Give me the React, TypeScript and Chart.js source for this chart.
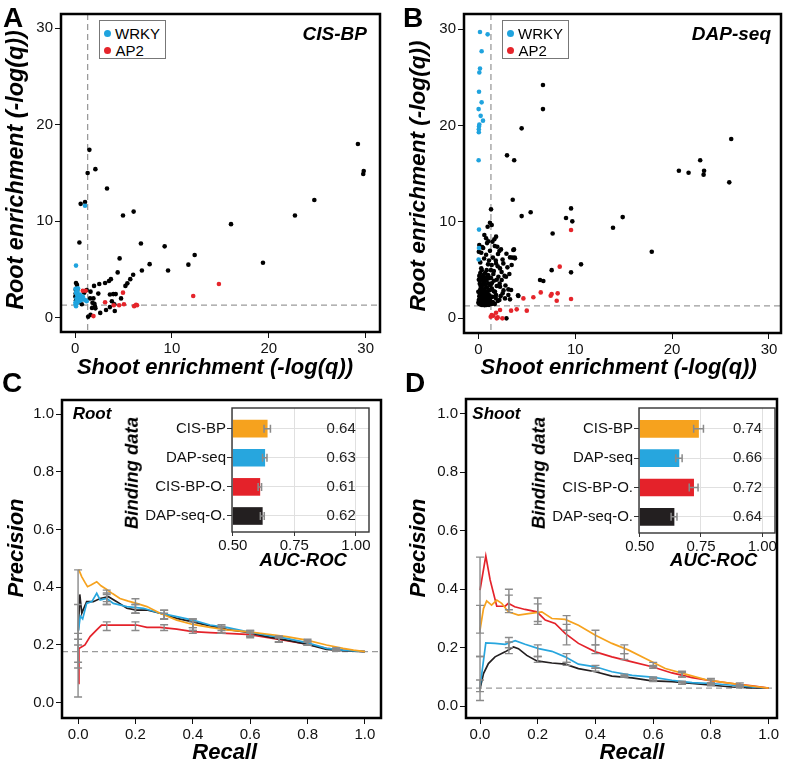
import React, { useEffect, useRef } from "react";
import { Chart, registerables } from "chart.js";
Chart.register(...registerables);

const FONT = "'Liberation Sans', Arial, Helvetica, sans-serif";
const ORANGE = "#F6A21E";
const BLUE = "#27A6DE";
const RED = "#E4222A";
const BLACK = "#231F20";
const PT_BLUE = "#1FA3DE";
const PT_RED = "#E5252B";

// ---------- Panel A (CIS-BP) scatter data: [shoot, root] ----------
const aBlack: [number, number][] = [
  [1.48, 17.4], [1.3, 15.0], [2.1, 15.4], [3.3, 13.4], [0.58, 11.8], [1.03, 12.0], [4.95, 10.6], [6.05, 11.0],
  [0.45, 7.8], [16.1, 9.7], [22.7, 10.6], [24.7, 12.2], [29.2, 18.0], [29.8, 15.2], [29.75, 14.9], [19.4, 5.7],
  [6.8, 7.7], [9.25, 7.4], [12.35, 6.5], [11.7, 5.5], [9.6, 4.9], [7.7, 5.55], [6.9, 4.9], [4.6, 6.15],
  [4.4, 4.7], [6.0, 4.45], [5.7, 4.0], [5.4, 3.56], [5.2, 3.3], [3.7, 4.0], [3.5, 3.8], [3.1, 3.6],
  [2.5, 3.5], [1.96, 3.3], [4.75, 2.0], [3.6, 2.4], [3.95, 2.45], [4.2, 2.45], [2.4, 2.5], [1.6, 2.7],
  [1.55, 2.0], [2.0, 1.45], [2.06, 1.15], [1.75, 1.0], [2.6, 0.5], [3.2, 0.8], [3.6, 1.1], [4.1, 0.7],
  [1.6, 0.3], [1.35, 0.1], [0.1, 3.6], [0.2, 3.4], [0.07, 2.9], [0.24, 2.9], [0.07, 2.5], [0.03, 2.2],
  [0.1, 1.8], [0.5, 1.66], [0.7, 1.4], [0.93, 2.7], [1.2, 2.87], [3.8, 1.7], [4.05, 1.4], [1.9, 2.0],
  [1.8, 1.55], [2.1, 0.97], [0.95, 2.6]
];
const aWrky: [number, number][] = [
  [1.03, 11.6], [0.1, 5.4], [0.05, 3.0], [0.3, 3.05], [0.1, 2.6], [0.2, 2.4], [0.35, 2.2], [0.5, 2.1],
  [0.7, 2.0], [0.9, 1.9], [1.1, 1.8], [0.15, 2.0], [0.3, 1.8], [0.05, 1.6], [0.2, 1.5], [0.4, 1.7],
  [0.6, 1.8], [0.8, 2.2], [0.05, 1.4], [0.1, 1.2], [0.25, 2.7], [1.2, 1.7], [0.5, 2.4]
];
const aAp2: [number, number][] = [
  [14.85, 3.5], [12.2, 2.25], [4.95, 2.6], [5.05, 1.4], [6.1, 1.2], [6.3, 1.35], [6.4, 1.3], [3.1, 1.6],
  [4.55, 1.3], [1.9, 0.17], [0.8, 2.8], [1.1, 2.8], [4.0, 1.3]
];

// ---------- Panel B (DAP-seq) scatter data ----------
const bBlack: [number, number][] = [
  [6.67, 24.2], [6.67, 21.7], [4.47, 19.7], [2.96, 16.9], [3.7, 16.4], [26.1, 18.6], [22.9, 16.4], [20.7, 15.3],
  [21.7, 15.1], [23.3, 15.3], [23.25, 14.9], [25.9, 14.1], [14.9, 10.5], [13.9, 9.4], [17.9, 6.9], [10.6, 5.6],
  [9.57, 11.4], [9.05, 10.4], [9.7, 10.06], [7.67, 8.8], [5.4, 11.0], [4.47, 10.6], [3.55, 12.3], [1.31, 11.3],
  [7.57, 5.0], [9.57, 4.77], [6.37, 3.97], [6.71, 3.87], [1.2, 9.92], [1.38, 9.68], [0.96, 9.5], [3.68, 7.15],
  [3.75, 6.3], [3.5, 6.3], [4.1, 2.4], [2.9, 0.0],
  [0.62, 8.64], [0.8, 8.3], [1.83, 8.47], [1.45, 7.95], [1.65, 8.2], [1.03, 8.0], [1.96, 7.43], [2.17, 6.98],
  [2.34, 7.15], [2.03, 6.67], [3.61, 7.09], [3.78, 6.22], [3.27, 6.32], [3.44, 5.53], [3.0, 5.29], [2.58, 5.7],
  [2.24, 5.18], [1.83, 5.7], [1.38, 5.53], [0.86, 5.0], [0.35, 5.0], [0.52, 4.49], [1.55, 4.6], [2.07, 4.32],
  [2.41, 3.97], [2.86, 4.32], [0.18, 3.97], [0.69, 3.97], [1.14, 4.15], [1.38, 3.63], [1.9, 3.35], [2.24, 3.28],
  [0.24, 3.35], [0.8, 3.21], [1.21, 2.94], [1.72, 2.76], [0.0, 2.76], [0.45, 2.59], [0.93, 2.42], [1.48, 2.24],
  [0.17, 2.07], [0.59, 1.9], [1.14, 1.83], [0.0, 1.62], [0.35, 1.48], [0.86, 1.38], [1.38, 1.48], [3.38, 2.94],
  [3.1, 2.42], [2.75, 2.07], [4.13, 2.31], [3.27, 1.97], [2.51, 2.59], [2.17, 1.9], [1.83, 2.42],
  [0.1, 4.4], [0.3, 4.1], [0.5, 3.8], [0.7, 3.5], [0.9, 3.2], [1.1, 2.9], [0.2, 3.0], [0.4, 2.8],
  [0.6, 2.6], [0.8, 2.3], [1.0, 2.1], [1.2, 1.9], [0.1, 2.3], [0.3, 2.0], [0.5, 1.8], [0.7, 1.6],
  [0.9, 1.5], [1.1, 1.4], [0.05, 1.9], [0.25, 1.6], [0.45, 1.4], [0.65, 1.35], [0.15, 3.6], [0.35, 3.3],
  [0.55, 3.0], [0.75, 2.8], [0.95, 2.6], [1.15, 2.4], [1.3, 2.2], [0.05, 4.0], [0.2, 4.7], [0.45, 4.3],
  [0.65, 4.2], [0.85, 3.9], [1.05, 3.6], [1.25, 3.4], [1.4, 3.1], [1.6, 2.8], [1.8, 2.1], [1.5, 1.7],
  [1.7, 1.5], [2.0, 1.8], [2.3, 2.3], [2.6, 2.9], [2.2, 3.6], [1.9, 4.0], [1.6, 4.9], [1.0, 5.6],
  [0.6, 6.2], [0.3, 6.8], [0.4, 7.4], [0.2, 5.8], [0.8, 6.6], [1.2, 7.0], [1.5, 6.3], [1.8, 6.0],
  [2.4, 4.8], [2.8, 3.4], [3.1, 3.0], [0.1, 7.6], [0.5, 7.3], [0.05, 6.9], [0.3, 5.2], [0.7, 4.7],
  [1.0, 4.5], [1.3, 4.2], [1.6, 3.9], [0.15, 2.6], [0.35, 2.4], [0.55, 2.2], [0.75, 2.0], [0.95, 1.8],
  [1.2, 1.6], [0.1, 1.5], [0.3, 1.4], [0.6, 1.45], [0.9, 1.7], [0.4, 3.5], [0.6, 3.7], [0.9, 4.3],
  [0.2, 4.2], [1.3, 5.0], [1.1, 6.0], [0.9, 7.8], [1.7, 7.5], [2.0, 5.4], [2.7, 4.4], [3.2, 4.6],
  [2.9, 6.7], [2.5, 6.1]
];
const bWrky: [number, number][] = [
  [0.17, 29.7], [0.96, 29.45], [0.34, 27.7], [0.17, 25.9], [0.1, 25.5], [0.07, 23.5], [0.34, 22.4], [0.03, 21.7],
  [0.24, 21.0], [0.48, 20.5], [0.07, 19.9], [0.05, 19.6], [0.05, 19.3], [0.1, 20.1], [0.03, 16.4], [0.07, 9.2],
  [0.07, 7.3], [0.03, 6.1]
];
const bAp2: [number, number][] = [
  [9.57, 9.16], [8.4, 5.36], [7.47, 2.35], [7.57, 2.52], [8.19, 2.59], [8.09, 1.83], [6.44, 2.69], [9.57, 2.0],
  [5.68, 2.18], [4.65, 2.07], [5.0, 0.8], [3.96, 0.93], [3.38, 0.8], [2.24, 0.86], [1.83, 0.58], [1.55, 0.27],
  [1.38, 0.35], [2.0, 0.1], [2.48, 0.0], [1.28, 0.17], [1.9, 0.0]
];

const scatterTicks = [0, 10, 20, 30];
const sigThreshold = 1.3; // -log10(0.05)

// ---------- Panels C / D precision-recall curves ----------
const prTicks = [0, 0.2, 0.4, 0.6, 0.8, 1.0];
const rootBaseline = 0.177;
const shootBaseline = 0.062;

const rootCisX = [0.002, 0.013, 0.025, 0.033, 0.045, 0.065, 0.08, 0.1, 0.12, 0.146, 0.175, 0.204, 0.24, 0.286, 0.344, 0.4, 0.46, 0.518, 0.588, 0.657, 0.727, 0.797, 0.866, 0.924, 0.96, 1.0];
const rootCisY = [0.462, 0.436, 0.415, 0.402, 0.408, 0.419, 0.405, 0.392, 0.378, 0.361, 0.352, 0.344, 0.333, 0.31, 0.286, 0.271, 0.261, 0.252, 0.246, 0.238, 0.229, 0.217, 0.2, 0.188, 0.182, 0.177];
const rootDapX = [0.001, 0.008, 0.016, 0.03, 0.048, 0.065, 0.077, 0.1, 0.123, 0.17, 0.228, 0.286, 0.344, 0.4, 0.46, 0.518, 0.588, 0.657, 0.727, 0.797, 0.866, 0.924, 1.0];
const rootDapY = [0.25, 0.30, 0.29, 0.344, 0.35, 0.379, 0.356, 0.361, 0.344, 0.333, 0.327, 0.31, 0.298, 0.286, 0.269, 0.261, 0.246, 0.234, 0.223, 0.208, 0.188, 0.182, 0.177];
const rootCisOX = [0.001, 0.003, 0.024, 0.042, 0.065, 0.082, 0.111, 0.17, 0.204, 0.24, 0.286, 0.344, 0.4, 0.46, 0.518, 0.588, 0.657, 0.727, 0.797, 0.866, 0.924, 1.0];
const rootCisOY = [0.067, 0.188, 0.2, 0.229, 0.252, 0.269, 0.269, 0.269, 0.269, 0.261, 0.261, 0.255, 0.246, 0.243, 0.24, 0.237, 0.226, 0.215, 0.203, 0.188, 0.182, 0.177];
const rootDapOX = [0.001, 0.006, 0.013, 0.03, 0.053, 0.077, 0.106, 0.135, 0.17, 0.204, 0.24, 0.286, 0.344, 0.4, 0.46, 0.518, 0.588, 0.657, 0.727, 0.797, 0.866, 0.924, 1.0];
const rootDapOY = [0.25, 0.375, 0.31, 0.35, 0.35, 0.361, 0.367, 0.35, 0.327, 0.321, 0.321, 0.31, 0.292, 0.28, 0.266, 0.254, 0.244, 0.229, 0.217, 0.203, 0.185, 0.18, 0.177];

const shootCisX = [0, 0.012, 0.023, 0.04, 0.058, 0.075, 0.098, 0.133, 0.168, 0.214, 0.249, 0.295, 0.341, 0.4, 0.457, 0.515, 0.573, 0.642, 0.712, 0.781, 0.851, 0.92, 1.0];
const shootCisY = [0.26, 0.334, 0.36, 0.346, 0.363, 0.352, 0.323, 0.312, 0.317, 0.323, 0.3, 0.297, 0.277, 0.243, 0.215, 0.192, 0.163, 0.129, 0.11, 0.091, 0.081, 0.072, 0.062];
const shootDapX = [0, 0.02, 0.052, 0.087, 0.122, 0.156, 0.203, 0.249, 0.295, 0.341, 0.4, 0.457, 0.527, 0.596, 0.665, 0.735, 0.804, 0.874, 0.943, 1.0];
const shootDapY = [0.066, 0.217, 0.215, 0.212, 0.224, 0.212, 0.197, 0.188, 0.169, 0.144, 0.135, 0.118, 0.106, 0.1, 0.089, 0.081, 0.078, 0.072, 0.066, 0.062];
const shootCisOX = [0, 0.02, 0.035, 0.058, 0.087, 0.098, 0.12, 0.156, 0.197, 0.226, 0.26, 0.295, 0.341, 0.4, 0.457, 0.527, 0.596, 0.665, 0.735, 0.804, 0.874, 0.943, 1.0];
const shootCisOY = [0.397, 0.514, 0.432, 0.342, 0.342, 0.352, 0.34, 0.331, 0.323, 0.295, 0.283, 0.249, 0.215, 0.186, 0.169, 0.152, 0.135, 0.114, 0.098, 0.087, 0.078, 0.07, 0.062];
const shootDapOX = [0, 0.012, 0.029, 0.052, 0.087, 0.116, 0.133, 0.162, 0.197, 0.249, 0.295, 0.341, 0.4, 0.457, 0.527, 0.596, 0.665, 0.735, 0.804, 0.874, 0.943, 1.0];
const shootDapOY = [0.06, 0.112, 0.146, 0.169, 0.186, 0.203, 0.197, 0.174, 0.155, 0.148, 0.144, 0.129, 0.118, 0.103, 0.097, 0.087, 0.084, 0.078, 0.072, 0.066, 0.063, 0.062];

// error bars at recall = 0.0, 0.1, ... 0.9
const errRecall = [0, 0.1, 0.2, 0.3, 0.4, 0.5, 0.6, 0.7, 0.8, 0.9];
const rootCisLo = [0.22, 0.35, 0.31, 0.29, 0.25, 0.24, 0.23, 0.21, 0.2, 0.18];
const rootCisHi = [0.46, 0.39, 0.36, 0.32, 0.29, 0.27, 0.25, 0.23, 0.22, 0.19];
const rootDapLo = [0.14, 0.34, 0.31, 0.29, 0.26, 0.24, 0.23, 0.21, 0.2, 0.18];
const rootDapHi = [0.24, 0.38, 0.34, 0.32, 0.29, 0.265, 0.25, 0.23, 0.215, 0.19];
const rootCisOLo = [0.02, 0.25, 0.25, 0.25, 0.24, 0.24, 0.225, 0.21, 0.2, 0.18];
const rootCisOHi = [0.2, 0.28, 0.28, 0.27, 0.26, 0.25, 0.24, 0.225, 0.21, 0.185];
const rootDapOLo = [0.12, 0.34, 0.31, 0.29, 0.25, 0.24, 0.23, 0.21, 0.2, 0.18];
const rootDapOHi = [0.34, 0.375, 0.34, 0.31, 0.28, 0.26, 0.245, 0.225, 0.21, 0.185];

const shootCisLo = [0.17, 0.33, 0.28, 0.26, 0.21, 0.18, 0.135, 0.1, 0.08, 0.07];
const shootCisHi = [0.345, 0.4, 0.37, 0.31, 0.26, 0.21, 0.15, 0.12, 0.095, 0.08];
const shootDapLo = [0.05, 0.2, 0.17, 0.15, 0.13, 0.1, 0.09, 0.08, 0.075, 0.065];
const shootDapHi = [0.17, 0.235, 0.21, 0.18, 0.14, 0.11, 0.1, 0.085, 0.08, 0.07];
const shootCisOLo = [0.25, 0.32, 0.29, 0.21, 0.18, 0.16, 0.13, 0.1, 0.08, 0.07];
const shootCisOHi = [0.51, 0.38, 0.35, 0.28, 0.21, 0.18, 0.14, 0.115, 0.09, 0.075];
const shootDapOLo = [0.02, 0.18, 0.15, 0.14, 0.12, 0.1, 0.085, 0.075, 0.07, 0.065];
const shootDapOHi = [0.09, 0.22, 0.17, 0.15, 0.13, 0.105, 0.095, 0.085, 0.075, 0.07];

// ---------- Inset AUC-ROC bars ----------
const aucCategories = ["CIS-BP", "DAP-seq", "CIS-BP-O.", "DAP-seq-O."];
const aucColors = [ORANGE, BLUE, RED, BLACK];
const aucTicks = [0.5, 0.75, 1.0];
const rootAuc = [0.64, 0.63, 0.61, 0.62];
const rootAucErr = [0.013, 0.009, 0.007, 0.008];
const shootAuc = [0.74, 0.66, 0.72, 0.64];
const shootAucErr = [0.02, 0.013, 0.018, 0.012];

// ---------- helpers ----------
type Box = { x: number; y: number; w: number; h: number };
type Area = { l: number; t: number; r: number; b: number };

function pad(box: Box, a: Area, wy: number, hx: number) {
  return { left: a.l - box.x - wy, top: a.t - box.y, right: box.x + box.w - a.r, bottom: box.y + box.h - a.b - hx };
}

function mainAxis(min: number, max: number, ticks: number[], fmt: (v: number) => string, fit: (s: any) => void) {
  return {
    type: "linear",
    min,
    max,
    afterBuildTicks: (s: any) => { s.ticks = ticks.map((v) => ({ value: v })); },
    afterFit: fit,
    border: { display: false },
    grid: { display: true, drawOnChartArea: false, drawTicks: true, tickLength: 6, tickColor: "#111", tickWidth: 1 },
    ticks: { color: "#111", font: { family: FONT, size: 15 }, padding: 2, autoSkip: false, maxRotation: 0, callback: (v: any) => fmt(Number(v)) },
  };
}

const framePlugin = (w: number, color: string) => ({
  id: "frame",
  afterDraw(chart: any) {
    const { ctx, chartArea: a } = chart;
    ctx.save();
    ctx.strokeStyle = color;
    ctx.lineWidth = w;
    ctx.strokeRect(a.left, a.top, a.right - a.left, a.bottom - a.top);
    ctx.restore();
  },
});

const refLinePlugin = (xv: number | null, yv: number | null) => ({
  id: "refLines",
  beforeDatasetsDraw(chart: any) {
    const { ctx, chartArea: a, scales } = chart;
    ctx.save();
    ctx.strokeStyle = "#9b9b9b";
    ctx.lineWidth = 1.3;
    ctx.setLineDash([6, 4]);
    if (xv !== null) {
      const px = scales.x.getPixelForValue(xv);
      ctx.beginPath(); ctx.moveTo(px, a.top); ctx.lineTo(px, a.bottom); ctx.stroke();
    }
    if (yv !== null) {
      const py = scales.y.getPixelForValue(yv);
      ctx.beginPath(); ctx.moveTo(a.left, py); ctx.lineTo(a.right, py); ctx.stroke();
    }
    ctx.restore();
  },
});

const errorBarPlugin = (series: { lo: number[]; hi: number[] }[]) => ({
  id: "errBars",
  afterDatasetsDraw(chart: any) {
    const { ctx, scales } = chart;
    ctx.save();
    ctx.strokeStyle = "#8a8a8a";
    ctx.lineWidth = 1.4;
    series.forEach((s) => {
      errRecall.forEach((r, i) => {
        const px = scales.x.getPixelForValue(r);
        const y1 = scales.y.getPixelForValue(s.lo[i]);
        const y2 = scales.y.getPixelForValue(s.hi[i]);
        ctx.beginPath();
        ctx.moveTo(px, y1); ctx.lineTo(px, y2);
        ctx.moveTo(px - 4, y1); ctx.lineTo(px + 4, y1);
        ctx.moveTo(px - 4, y2); ctx.lineTo(px + 4, y2);
        ctx.stroke();
      });
    });
    ctx.restore();
  },
});

function ChartBox({ box, make }: { box: Box; make: () => any }) {
  const ref = useRef<HTMLCanvasElement>(null);
  useEffect(() => {
    const chart = new Chart(ref.current as HTMLCanvasElement, make());
    return () => chart.destroy();
  }, []);
  return (
    <canvas
      ref={ref}
      width={box.w}
      height={box.h}
      style={{ position: "absolute", left: box.x, top: box.y, width: box.w, height: box.h }}
    />
  );
}

// ---------- chart configs ----------
function scatterConfig(box: Box, area: Area, xr: [number, number], yr: [number, number],
  black: [number, number][], wrky: [number, number][], ap2: [number, number][]) {
  const ds = (pts: [number, number][], color: string) => ({
    data: pts.map(([x, y]) => ({ x, y })),
    pointRadius: 2.3,
    pointBackgroundColor: color,
    pointBorderWidth: 0,
    pointHoverRadius: 0,
  });
  return {
    type: "scatter",
    data: { datasets: [ds(ap2, PT_RED), ds(wrky, PT_BLUE), ds(black, "#000")] },
    options: {
      animation: false,
      responsive: false,
      events: [],
      layout: { padding: pad(box, area, 55, 45) },
      plugins: { legend: { display: false }, tooltip: { enabled: false } },
      scales: {
        x: mainAxis(xr[0], xr[1], scatterTicks, (v) => String(v), (s: any) => { s.height = 45; }),
        y: mainAxis(yr[0], yr[1], scatterTicks, (v) => String(v), (s: any) => { s.width = 55; }),
      },
    },
    plugins: [refLinePlugin(sigThreshold, sigThreshold), framePlugin(2.5, "#000")],
  };
}

function prConfig(box: Box, area: Area, xr: [number, number], yr: [number, number], baseline: number,
  lines: { x: number[]; y: number[]; color: string; lo: number[]; hi: number[] }[]) {
  return {
    type: "line",
    data: {
      datasets: lines.map((l) => ({
        data: l.x.map((x, i) => ({ x, y: l.y[i] })),
        borderColor: l.color,
        borderWidth: 1.7,
        pointRadius: 0,
        fill: false,
        tension: 0,
      })),
    },
    options: {
      animation: false,
      responsive: false,
      events: [],
      layout: { padding: pad(box, area, 55, 45) },
      plugins: { legend: { display: false }, tooltip: { enabled: false } },
      scales: {
        x: mainAxis(xr[0], xr[1], prTicks, (v) => v.toFixed(1), (s: any) => { s.height = 45; }),
        y: mainAxis(yr[0], yr[1], prTicks, (v) => v.toFixed(1), (s: any) => { s.width = 55; }),
      },
    },
    plugins: [refLinePlugin(null, baseline), errorBarPlugin(lines.map((l) => ({ lo: l.lo, hi: l.hi }))), framePlugin(2.5, "#000")],
  };
}

function insetConfig(box: Box, area: Area, xr: [number, number], values: number[], errs: number[]) {
  const wy = area.l - box.x;
  return {
    type: "bar",
    data: {
      datasets: [{
        data: values.map((v, i) => ({ x: v, y: i + 1 })),
        backgroundColor: aucColors,
        borderWidth: 0,
        barThickness: 17,
        base: 0.5,
      }],
    },
    options: {
      indexAxis: "y",
      animation: false,
      responsive: false,
      events: [],
      layout: { padding: pad(box, area, wy, 30) },
      plugins: { legend: { display: false }, tooltip: { enabled: false } },
      scales: {
        x: {
          type: "linear",
          min: xr[0],
          max: xr[1],
          afterBuildTicks: (s: any) => { s.ticks = aucTicks.map((v) => ({ value: v })); },
          afterFit: (s: any) => { s.height = 30; },
          border: { display: false },
          grid: { display: true, drawOnChartArea: true, color: "#e0e0e0", lineWidth: 1, drawTicks: true, tickLength: 4, tickColor: "#333" },
          ticks: { color: "#111", font: { family: FONT, size: 15 }, padding: 1, autoSkip: false, maxRotation: 0, callback: (v: any) => Number(v).toFixed(2) },
        },
        y: {
          type: "linear",
          reverse: true,
          offset: false,
          min: 0.29,
          max: 4.55,
          afterBuildTicks: (s: any) => { s.ticks = aucCategories.map((_, i) => ({ value: i + 1 })); },
          afterFit: (s: any) => { s.width = wy; },
          border: { display: false },
          grid: { display: true, offset: false, drawOnChartArea: true, color: "#e0e0e0", lineWidth: 1, drawTicks: true, tickLength: 5, tickColor: "#333" },
          ticks: { color: "#111", font: { family: FONT, size: 15 }, padding: 1, autoSkip: false, callback: (v: any) => aucCategories[Math.round(Number(v)) - 1] },
        },
      },
    },
    plugins: [
      {
        id: "white",
        beforeDraw(chart: any) {
          const { ctx, chartArea: a } = chart;
          ctx.save(); ctx.fillStyle = "#fff"; ctx.fillRect(a.left, a.top, a.right - a.left, a.bottom - a.top); ctx.restore();
        },
      },
      {
        id: "aucLabels",
        afterDatasetsDraw(chart: any) {
          const { ctx, scales } = chart;
          ctx.save();
          ctx.strokeStyle = "#8a8a8a";
          ctx.lineWidth = 1.5;
          values.forEach((v, i) => {
            const py = scales.y.getPixelForValue(i + 1);
            const x1 = scales.x.getPixelForValue(v - errs[i]);
            const x2 = scales.x.getPixelForValue(v + errs[i]);
            ctx.beginPath();
            ctx.moveTo(x1, py); ctx.lineTo(x2, py);
            ctx.moveTo(x1, py - 4); ctx.lineTo(x1, py + 4);
            ctx.moveTo(x2, py - 4); ctx.lineTo(x2, py + 4);
            ctx.stroke();
          });
          ctx.fillStyle = "#222";
          ctx.font = `15px ${FONT}`;
          ctx.textAlign = "center";
          ctx.textBaseline = "middle";
          values.forEach((v, i) => {
            ctx.fillText(v.toFixed(2), scales.x.getPixelForValue(0.94), scales.y.getPixelForValue(i + 1));
          });
          ctx.restore();
        },
      },
      framePlugin(1.4, "#333"),
    ],
  };
}

// ---------- text helpers ----------
function T({ x, y, text, size, bold = false, italic = false, anchor = "start" }:
  { x: number; y: number; text: string; size: number; bold?: boolean; italic?: boolean; anchor?: string }) {
  const tx = anchor === "middle" ? "-50%" : anchor === "end" ? "-100%" : "0";
  return (
    <div style={{
      position: "absolute", left: x, top: y - 0.8465 * size, fontFamily: FONT, fontSize: size,
      lineHeight: `${size}px`, fontWeight: bold ? 700 : 400, fontStyle: italic ? "italic" : "normal",
      whiteSpace: "nowrap", transform: `translateX(${tx})`, color: "#000",
    }}>{text}</div>
  );
}

function VT({ cx, cy, text, size }: { cx: number; cy: number; text: string; size: number }) {
  return (
    <div style={{
      position: "absolute", left: cx, top: cy, fontFamily: FONT, fontSize: size, lineHeight: `${size}px`,
      fontWeight: 700, fontStyle: "italic", whiteSpace: "nowrap", transform: "translate(-50%, -50%) rotate(-90deg)", color: "#000",
    }}>{text}</div>
  );
}

function Legend({ x, y }: { x: number; y: number }) {
  const dot = (cy: number, color: string) => (
    <div style={{ position: "absolute", left: x + 8 - 3.5, top: cy - 3.5, width: 7, height: 7, borderRadius: "50%", background: color }} />
  );
  return (
    <>
      <div style={{ position: "absolute", left: x, top: y, width: 67, height: 39, border: "1px solid #777", boxSizing: "border-box", background: "#fff" }} />
      {dot(y + 13.3, PT_BLUE)}
      {dot(y + 30, PT_RED)}
      <T x={x + 16} y={y + 18.6} text="WRKY" size={15} />
      <T x={x + 16.5} y={y + 35.4} text="AP2" size={15} />
    </>
  );
}

// ---------- layout ----------
const boxA: Box = { x: 0, y: 0, w: 394, h: 382 };
const areaA: Area = { l: 61, t: 14, r: 380, b: 332 };
const boxB: Box = { x: 394, y: 0, w: 395, h: 382 };
const areaB: Area = { l: 464, t: 14, r: 781, b: 333 };
const boxC: Box = { x: 0, y: 382, w: 394, h: 382 };
const areaC: Area = { l: 62, t: 400, r: 381, b: 718 };
const boxD: Box = { x: 394, y: 382, w: 395, h: 382 };
const areaD: Area = { l: 466, t: 399, r: 777, b: 718 };
const boxCi: Box = { x: 100, y: 398, w: 280, h: 170 };
const areaCi: Area = { l: 232, t: 408, r: 369, b: 532 };
const boxDi: Box = { x: 505, y: 398, w: 280, h: 170 };
const areaDi: Area = { l: 639, t: 408, r: 775, b: 533 };

export default function App() {
  return (
    <div style={{ position: "absolute", left: 0, top: 0, width: 789, height: 764, background: "#fff", overflow: "hidden" }}>
      <ChartBox box={boxA} make={() => scatterConfig(boxA, areaA, [-1.45, 31.48], [-1.48, 31.48], aBlack, aWrky, aAp2)} />
      <ChartBox box={boxB} make={() => scatterConfig(boxB, areaB, [-1.48, 31.24], [-1.52, 31.56], bBlack, bWrky, bAp2)} />
      <ChartBox box={boxC} make={() => prConfig(boxC, areaC, [-0.056, 1.056], [-0.053, 1.0485], rootBaseline, [
        { x: rootCisX, y: rootCisY, color: ORANGE, lo: rootCisLo, hi: rootCisHi },
        { x: rootDapX, y: rootDapY, color: BLUE, lo: rootDapLo, hi: rootDapHi },
        { x: rootDapOX, y: rootDapOY, color: BLACK, lo: rootDapOLo, hi: rootDapOHi },
        { x: rootCisOX, y: rootCisOY, color: RED, lo: rootCisOLo, hi: rootCisOHi },
      ])} />
      <ChartBox box={boxD} make={() => prConfig(boxD, areaD, [-0.0486, 1.029], [-0.04, 1.0503], shootBaseline, [
        { x: shootCisX, y: shootCisY, color: ORANGE, lo: shootCisLo, hi: shootCisHi },
        { x: shootCisOX, y: shootCisOY, color: RED, lo: shootCisOLo, hi: shootCisOHi },
        { x: shootDapX, y: shootDapY, color: BLUE, lo: shootDapLo, hi: shootDapHi },
        { x: shootDapOX, y: shootDapOY, color: BLACK, lo: shootDapOLo, hi: shootDapOHi },
      ])} />
      <ChartBox box={boxCi} make={() => insetConfig(boxCi, areaCi, [0.497, 1.053], rootAuc, rootAucErr)} />
      <ChartBox box={boxDi} make={() => insetConfig(boxDi, areaDi, [0.497, 1.052], shootAuc, shootAucErr)} />

      {/* panel letters */}
      <T x={3} y={28} text="A" size={28} bold />
      <T x={403} y={28} text="B" size={28} bold />
      <T x={2} y={392.5} text="C" size={28} bold />
      <T x={405} y={392.5} text="D" size={28} bold />

      {/* in-plot labels */}
      <T x={367} y={40} text="CIS-BP" size={19} bold italic anchor="end" />
      <T x={771} y={40} text="DAP-seq" size={19} bold italic anchor="end" />
      <T x={72.7} y={419} text="Root" size={17} bold italic />
      <T x={472.3} y={419} text="Shoot" size={17} bold italic />

      <Legend x={99} y={20} />
      <Legend x={502} y={20} />

      {/* axis titles */}
      <T x={215} y={375} text="Shoot enrichment (-log(q))" size={22} bold italic anchor="middle" />
      <T x={618.7} y={375} text="Shoot enrichment (-log(q))" size={22} bold italic anchor="middle" />
      <VT cx={16} cy={170} text="Root enrichment (-log(q))" size={23.3} />
      <VT cx={418.3} cy={176} text="Root enrichment (-log(q))" size={22.6} />
      <T x={224.7} y={759.5} text="Recall" size={22} bold italic anchor="middle" />
      <T x={632} y={759.5} text="Recall" size={22} bold italic anchor="middle" />
      <VT cx={16.4} cy={547.5} text="Precision" size={22} />
      <VT cx={418.1} cy={547.5} text="Precision" size={22} />
      <VT cx={131.8} cy={473.3} text="Binding data" size={18.5} />
      <VT cx={538.5} cy={473.3} text="Binding data" size={18.5} />
      <T x={303.3} y={566.6} text="AUC-ROC" size={18.5} bold italic anchor="middle" />
      <T x={713.8} y={566.6} text="AUC-ROC" size={18.5} bold italic anchor="middle" />
    </div>
  );
}
